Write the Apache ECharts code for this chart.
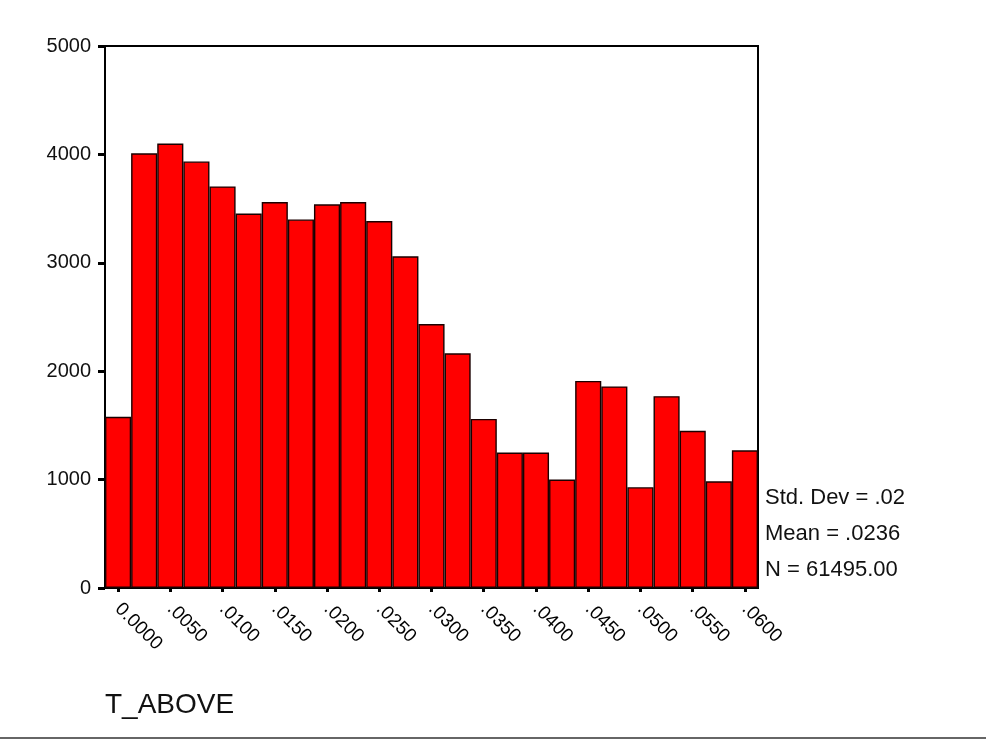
<!DOCTYPE html>
<html>
<head>
<meta charset="utf-8">
<script src="https://cdn.jsdelivr.net/npm/echarts@6/dist/echarts.min.js"></script>
<style>
  html, body { margin: 0; padding: 0; background: #fff; }
  #chart { width: 986px; height: 740px; }
</style>
</head>
<body>
<div id="chart"></div>
<script>
// Histogram of T_ABOVE: bin centres (every other one is labelled) and counts
const binLabels = ['0.0000', '', '.0050', '', '.0100', '', '.0150', '', '.0200', '', '.0250', '', '.0300',
                   '', '.0350', '', '.0400', '', '.0450', '', '.0500', '', '.0550', '', '.0600'];
const counts = [1580, 4010, 4100, 3935, 3705, 3455, 3560, 3400, 3540, 3560, 3385, 3060, 2435,
                2165, 1560, 1250, 1250, 1000, 1910, 1860, 930, 1770, 1450, 985, 1270];
const yTicks = [0, 1000, 2000, 3000, 4000, 5000];
const statLines = ['Std. Dev = .02', 'Mean = .0236', 'N = 61495.00'];
const varName = 'T_ABOVE';

const FONT = 'Liberation Sans, Arial, sans-serif';
const chart = echarts.init(document.getElementById('chart'));

chart.setOption({
  animation: false,
  backgroundColor: '#ffffff',
  grid: {
    left: 105, right: 228, top: 46, bottom: 152,
    show: true, borderColor: '#000', borderWidth: 2, backgroundColor: 'transparent'
  },
  xAxis: {
    type: 'category',
    data: binLabels,
    boundaryGap: true,
    axisLine: { show: true, lineStyle: { color: '#000', width: 2 } },
    axisTick: { show: true, alignWithLabel: true, interval: 1, length: 4, lineStyle: { color: '#000', width: 3 } },
    axisLabel: {
      interval: 1, rotate: -45, margin: 18,
      fontFamily: FONT, fontSize: 19, color: '#000'
    },
    splitLine: { show: false }
  },
  yAxis: {
    type: 'value',
    min: yTicks[0], max: yTicks[yTicks.length - 1], interval: 1000,
    axisLine: { show: true, lineStyle: { color: '#000', width: 2 } },
    axisTick: { show: true, length: 7, lineStyle: { color: '#000', width: 3 } },
    axisLabel: {
      margin: 14, fontFamily: FONT, fontSize: 20, color: '#111',
      formatter: v => String(v)
    },
    splitLine: { show: false }
  },
  series: [{
    type: 'bar',
    data: counts,
    barCategoryGap: '0%',
    itemStyle: { color: '#ff0000', borderColor: '#1a0000', borderWidth: 1.4 }
  }],
  graphic: [
    ...statLines.map((t, i) => ({
      type: 'text', left: 765, top: 487 + i * 36,
      style: { text: t, fontFamily: FONT, fontSize: 22, fill: '#111' }
    })),
    {
      type: 'text', left: 105, top: 691,
      style: { text: varName, fontFamily: FONT, fontSize: 28, fill: '#111' }
    },
    {
      type: 'line', shape: { x1: 0, y1: 738, x2: 986, y2: 738 },
      style: { stroke: '#666', lineWidth: 2 }
    }
  ]
});
</script>
</body>
</html>
